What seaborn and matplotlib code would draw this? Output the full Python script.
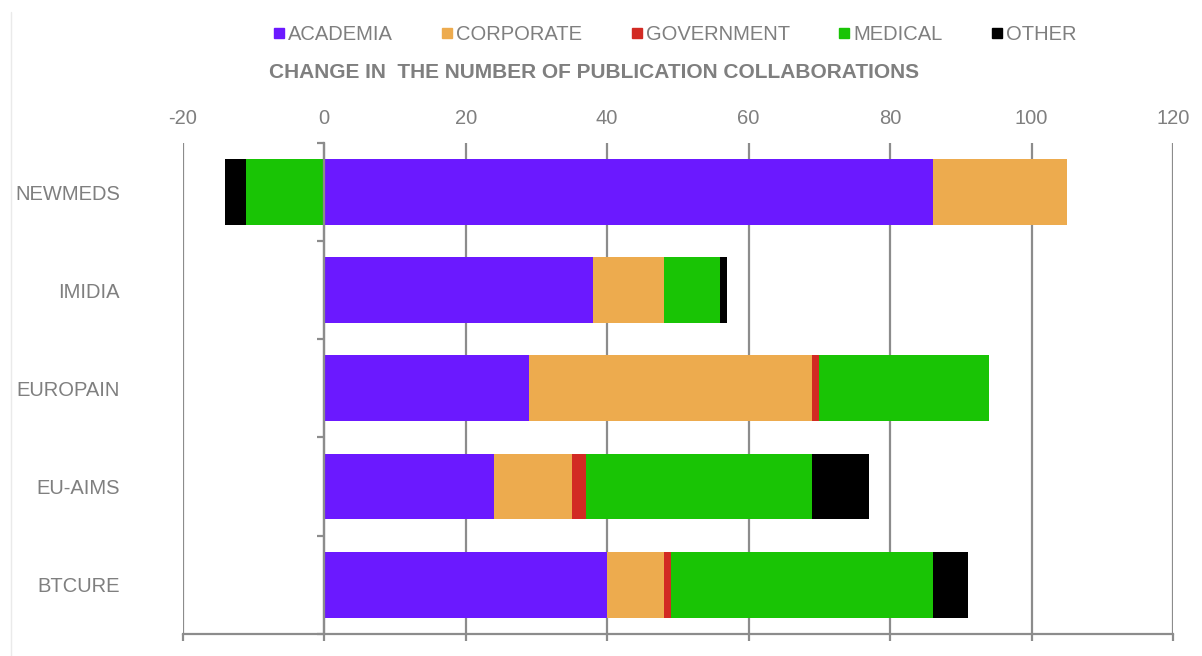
import numpy as np
import pandas as pd
import matplotlib.pyplot as plt
import seaborn as sns
from matplotlib.lines import Line2D

PROJECTS = ["NEWMEDS", "IMIDIA", "EUROPAIN", "EU-AIMS", "BTCURE"]
SECTORS = ["ACADEMIA", "CORPORATE", "GOVERNMENT", "MEDICAL", "OTHER"]
COLORS = ["#6B19FF", "#EDAB4E", "#D22A23", "#19C405", "#000000"]

ACADEMIA = [86, 38, 29, 24, 40]
CORPORATE = [19, 10, 40, 11, 8]
GOVERNMENT = [0, 0, 1, 2, 1]
MEDICAL = [-11, 8, 24, 32, 37]
OTHER = [-3, 1, 0, 8, 5]

XTICKS = [-20, 0, 20, 40, 60, 80, 100, 120]
TITLE = "CHANGE IN  THE NUMBER OF PUBLICATION COLLABORATIONS"

GRAY = "#7F7F7F"
LINE = "#8C8C8C"

df = pd.DataFrame(
    {"ACADEMIA": ACADEMIA, "CORPORATE": CORPORATE, "GOVERNMENT": GOVERNMENT,
     "MEDICAL": MEDICAL, "OTHER": OTHER},
    index=PROJECTS,
)

sns.set_theme(style="white")
plt.rcParams["font.family"] = ["Liberation Sans", "DejaVu Sans"]
plt.rcParams["axes.unicode_minus"] = False

fig = plt.figure(figsize=(12.02, 6.56), dpi=100)
ax = fig.add_axes([0.152, 0.034, 0.824, 0.748])

y = np.arange(len(PROJECTS))
pos_left = np.zeros(len(PROJECTS))
neg_left = np.zeros(len(PROJECTS))
for sector, color in zip(SECTORS, COLORS):
    vals = df[sector].to_numpy(dtype=float)
    left = np.where(vals >= 0, pos_left, neg_left)
    ax.barh(y, vals, left=left, height=0.67, color=color, linewidth=0, zorder=3)
    pos_left = pos_left + np.clip(vals, 0, None)
    neg_left = neg_left + np.clip(vals, None, 0)

ax.set_xlim(-20, 120)
ax.set_ylim(len(PROJECTS) - 0.5, -0.5)
ax.set_xticks(XTICKS)
ax.grid(axis="x", color=LINE, linewidth=1.6, zorder=1)
ax.grid(axis="y", visible=False)

ax.tick_params(axis="x", top=False, bottom=True, labeltop=True, labelbottom=False,
               length=5, width=1.6, color=LINE, labelsize=14.5,
               labelcolor=GRAY, pad=6)

# category axis sits on the zero line
ax.spines["left"].set_position(("data", 0))
ax.spines["left"].set_color(LINE)
ax.spines["left"].set_linewidth(1.6)
ax.spines["left"].set_zorder(4)
for side in ["top", "right"]:
    ax.spines[side].set_visible(False)
ax.spines["bottom"].set_color(LINE)
ax.spines["bottom"].set_linewidth(1.6)

ax.set_yticks(y)
ax.set_yticklabels(PROJECTS)
ax.set_yticks(np.arange(len(PROJECTS) + 1) - 0.5, minor=True)
ax.tick_params(axis="y", which="major", length=0, pad=147, labelsize=14.5,
               labelcolor=GRAY)
ax.tick_params(axis="y", which="minor", left=True, length=5, width=1.6,
               color=LINE)

fig.text(0.494, 0.89, TITLE, ha="center", va="center", fontsize=15,
         fontweight="bold", color=GRAY)

handles = [Line2D([], [], marker="s", linestyle="none", markersize=7,
                  markerfacecolor=c, markeredgecolor=c) for c in COLORS]
fig.legend(handles, SECTORS, loc="center", bbox_to_anchor=(0.561, 0.947),
           ncol=5, frameon=False, fontsize=14.5, labelcolor=GRAY,
           handletextpad=0.1, columnspacing=2.35, handlelength=0.7)

fig.add_artist(Line2D([0.0095, 0.0095], [0.0, 0.982], color="#EAEAEA", linewidth=1))

fig.savefig("out.png", dpi=100)
